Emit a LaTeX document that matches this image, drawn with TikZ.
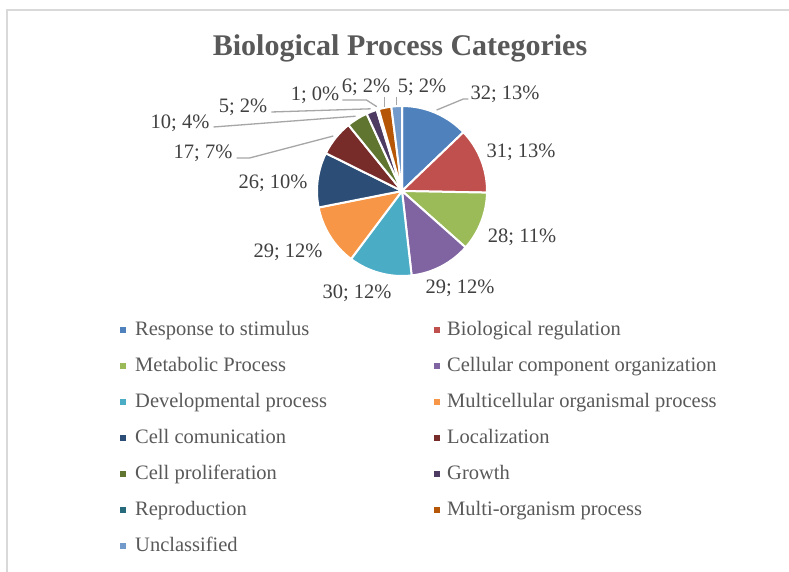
\documentclass[tikz,border=0pt]{standalone}
\usepackage{fontspec}
\setmainfont{Liberation Serif}
\usetikzlibrary{positioning}
\definecolor{resp}{HTML}{4F81BD}
\definecolor{bioreg}{HTML}{C0504D}
\definecolor{metab}{HTML}{9BBB59}
\definecolor{cellcomp}{HTML}{8064A2}
\definecolor{devel}{HTML}{4BACC6}
\definecolor{multicell}{HTML}{F79646}
\definecolor{cellcom}{HTML}{2C4D75}
\definecolor{local}{HTML}{772C2A}
\definecolor{prolif}{HTML}{5F7530}
\definecolor{growth}{HTML}{4D3B62}
\definecolor{repro}{HTML}{276A7C}
\definecolor{multiorg}{HTML}{B65708}
\definecolor{unclass}{HTML}{729ACA}
\definecolor{lbltext}{HTML}{404040}
\definecolor{legtext}{HTML}{595959}
\definecolor{leadgray}{HTML}{A6A6A6}
\definecolor{framegray}{HTML}{D9D9D9}
\tikzset{
  slice/.style={draw=white,line width=2pt,line join=round},
  lbl/.style={text=lbltext,font=\fontsize{20.5}{24}\selectfont,inner sep=0pt},
  leader/.style={draw=leadgray,line width=1.3pt},
  legsq/.style={minimum size=6.5pt,inner sep=0pt},
  legtxt/.style={text=legtext,font=\fontsize{20.5}{24}\selectfont,inner sep=0pt,anchor=base west},
  charttitle/.style={text=legtext,font=\fontsize{30}{36}\selectfont\bfseries,inner sep=0pt}
}
\begin{document}
\begin{tikzpicture}[x=1pt,y=1pt]
  \useasboundingbox (0,0) rectangle (789,572);
  \fill[white] (0,0) rectangle (789,572);
  \draw[framegray,line width=2pt] (7,-5) -- (7,562) -- (800,562);
  \node[charttitle] (title) at (400,524) {Biological Process Categories};
  \begin{scope}[shift={(402,381)}]
    \filldraw[slice,fill=resp] (0,0) -- (90:85) arc[start angle=90,end angle=43.735,radius=85] -- cycle;
    \filldraw[slice,fill=bioreg] (0,0) -- (43.735:85) arc[start angle=43.735,end angle=-1.084,radius=85] -- cycle;
    \filldraw[slice,fill=metab] (0,0) -- (-1.084:85) arc[start angle=-1.084,end angle=-41.566,radius=85] -- cycle;
    \filldraw[slice,fill=cellcomp] (0,0) -- (-41.566:85) arc[start angle=-41.566,end angle=-83.494,radius=85] -- cycle;
    \filldraw[slice,fill=devel] (0,0) -- (-83.494:85) arc[start angle=-83.494,end angle=-126.867,radius=85] -- cycle;
    \filldraw[slice,fill=multicell] (0,0) -- (-126.867:85) arc[start angle=-126.867,end angle=-168.795,radius=85] -- cycle;
    \filldraw[slice,fill=cellcom] (0,0) -- (-168.795:85) arc[start angle=-168.795,end angle=-206.386,radius=85] -- cycle;
    \filldraw[slice,fill=local] (0,0) -- (-206.386:85) arc[start angle=-206.386,end angle=-230.964,radius=85] -- cycle;
    \filldraw[slice,fill=prolif] (0,0) -- (-230.964:85) arc[start angle=-230.964,end angle=-245.422,radius=85] -- cycle;
    \filldraw[slice,fill=growth] (0,0) -- (-245.422:85) arc[start angle=-245.422,end angle=-252.651,radius=85] -- cycle;
    \filldraw[slice,fill=repro] (0,0) -- (-252.651:85) arc[start angle=-252.651,end angle=-254.096,radius=85] -- cycle;
    \filldraw[slice,fill=multiorg] (0,0) -- (-254.096:85) arc[start angle=-254.096,end angle=-262.771,radius=85] -- cycle;
    \filldraw[slice,fill=unclass] (0,0) -- (-262.771:85) arc[start angle=-262.771,end angle=-270,radius=85] -- cycle;
    \coordinate (e1) at (66.87:88);
    \coordinate (e8) at (141.33:88);
    \coordinate (e9) at (121.81:88);
    \coordinate (e10) at (110.96:88);
    \coordinate (e11) at (106.63:88);
    \coordinate (e12) at (101.57:86);
    \coordinate (e13) at (93.61:86);
  \end{scope}
  \node[lbl] (l1) at (505,478) {32; 13\%};
  \node[lbl] (l2) at (521,420) {31; 13\%};
  \node[lbl] (l3) at (522,335) {28; 11\%};
  \node[lbl] (l4) at (460,284) {29; 12\%};
  \node[lbl] (l5) at (357,279) {30; 12\%};
  \node[lbl] (l6) at (288,320) {29; 12\%};
  \node[lbl] (l7) at (273,389) {26; 10\%};
  \node[lbl] (l8) at (203,419) {17; 7\%};
  \node[lbl] (l9) at (180,449) {10; 4\%};
  \node[lbl] (l10) at (243,465) {5; 2\%};
  \node[lbl] (l11) at (315,477) {1; 0\%};
  \node[lbl] (l12) at (366,485) {6; 2\%};
  \node[lbl] (l13) at (422,485) {5; 2\%};
  \draw[leader] ([shift={(-2pt,-5pt)}]l1.west) -- ++(-5,0) -- (e1);
  \draw[leader] ([shift={(4pt,-5pt)}]l8.east) -- ++(13,0) -- (e8);
  \draw[leader] ([shift={(4pt,-4pt)}]l9.east) -- (e9);
  \draw[leader] ([shift={(4pt,-5pt)}]l10.east) -- (e10);
  \draw[leader] ([shift={(3pt,-5pt)}]l11.east) -- ++(24,0) -- (e11);
  \draw[leader] ([yshift=-1pt]l12.south -| e12) -- (e12);
  \draw[leader] ([yshift=-1pt]l13.south -| e13) -- (e13);
  \node[legsq,fill=resp] (s1) at (123,242) {};
  \node[legtxt] (t1) at (135,236) {Response to stimulus};
  \node[legsq,fill=bioreg] (s2) at (437,242) {};
  \node[legtxt] (t2) at (447,236) {Biological regulation};
  \node[legsq,fill=metab] (s3) at (123,206) {};
  \node[legtxt] (t3) at (135,200) {Metabolic Process};
  \node[legsq,fill=cellcomp] (s4) at (437,206) {};
  \node[legtxt] (t4) at (447,200) {Cellular component organization};
  \node[legsq,fill=devel] (s5) at (123,170) {};
  \node[legtxt] (t5) at (135,164) {Developmental process};
  \node[legsq,fill=multicell] (s6) at (437,170) {};
  \node[legtxt] (t6) at (447,164) {Multicellular organismal process};
  \node[legsq,fill=cellcom] (s7) at (123,134) {};
  \node[legtxt] (t7) at (135,128) {Cell comunication};
  \node[legsq,fill=local] (s8) at (437,134) {};
  \node[legtxt] (t8) at (447,128) {Localization};
  \node[legsq,fill=prolif] (s9) at (123,98) {};
  \node[legtxt] (t9) at (135,92) {Cell proliferation};
  \node[legsq,fill=growth] (s10) at (437,98) {};
  \node[legtxt] (t10) at (447,92) {Growth};
  \node[legsq,fill=repro] (s11) at (123,62) {};
  \node[legtxt] (t11) at (135,56) {Reproduction};
  \node[legsq,fill=multiorg] (s12) at (437,62) {};
  \node[legtxt] (t12) at (447,56) {Multi-organism process};
  \node[legsq,fill=unclass] (s13) at (123,26) {};
  \node[legtxt] (t13) at (135,20) {Unclassified};
\end{tikzpicture}
\end{document}
